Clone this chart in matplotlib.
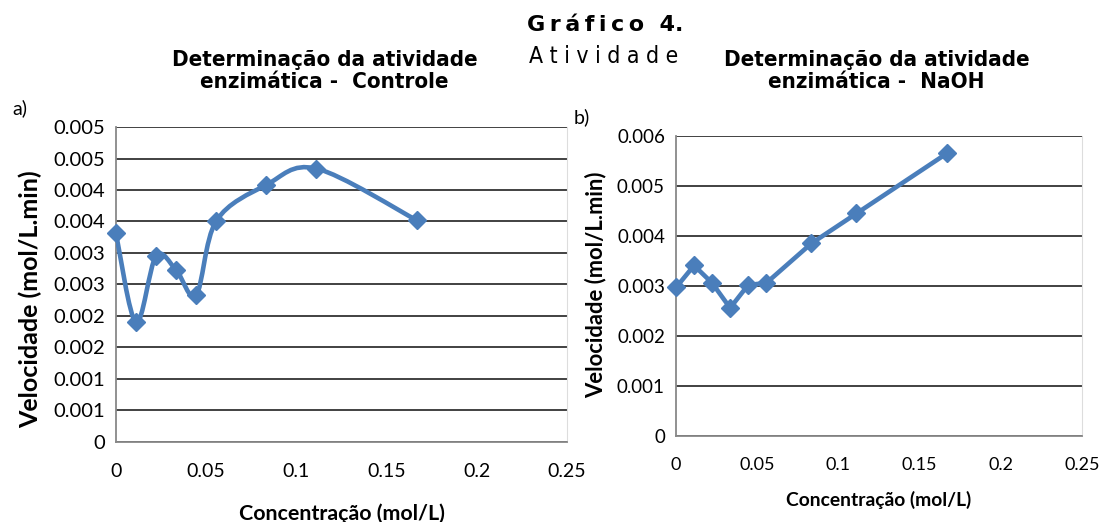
import matplotlib.pyplot as plt
from matplotlib.path import Path
from matplotlib.patches import PathPatch

# concentracoes (mol/L)
conc = [0, 0.0111, 0.0222, 0.0333, 0.0444, 0.0556, 0.0833, 0.1111, 0.1667]
# velocidades (mol/L.min)
vel_controle = [0.00331, 0.00190, 0.00295, 0.00273, 0.00233, 0.00351, 0.00408, 0.00434, 0.00352]
vel_naoh = [0.00297, 0.00341, 0.00306, 0.00256, 0.00302, 0.00306, 0.00385, 0.00445, 0.00565]

xticks = [0, 0.05, 0.1, 0.15, 0.2, 0.25]
xtick_labels = ['0', '0.05', '0.1', '0.15', '0.2', '0.25']
yticks_a = [0, 0.0005, 0.001, 0.0015, 0.002, 0.0025, 0.003, 0.0035, 0.004, 0.0045, 0.005]
ytick_labels_a = ['0', '0.001', '0.001', '0.002', '0.002', '0.003', '0.003', '0.004', '0.004', '0.005', '0.005']
yticks_b = [0, 0.001, 0.002, 0.003, 0.004, 0.005, 0.006]
ytick_labels_b = ['0', '0.001', '0.002', '0.003', '0.004', '0.005', '0.006']

azul = '#4a7ebb'
fonte = 'Lato'
titulo_fonte = 'DejaVu Sans'
ts = '\u2009'  # espaco fino


def curva_suave(xs, ys):
    # linha suavizada tipo excel (catmull-rom -> bezier)
    n = len(xs)
    verts = [(xs[0], ys[0])]
    codes = [Path.MOVETO]
    for i in range(n - 1):
        x0, y0 = xs[max(i - 1, 0)], ys[max(i - 1, 0)]
        x1, y1 = xs[i], ys[i]
        x2, y2 = xs[i + 1], ys[i + 1]
        x3, y3 = xs[min(i + 2, n - 1)], ys[min(i + 2, n - 1)]
        verts.append((x1 + (x2 - x0) / 6, y1 + (y2 - y0) / 6))
        verts.append((x2 - (x3 - x1) / 6, y2 - (y3 - y1) / 6))
        verts.append((x2, y2))
        codes += [Path.CURVE4] * 3
    return Path(verts, codes)


def estilo(ax, yticks, ylabels, fx, fy):
    ax.set_xlim(0, 0.25)
    ax.set_ylim(yticks[0], yticks[-1])
    ax.set_xticks(xticks)
    ax.set_xticklabels(xtick_labels, fontfamily=fonte, fontsize=fx)
    ax.set_yticks(yticks)
    ax.set_yticklabels(ylabels, fontfamily=fonte, fontsize=fy)
    ax.tick_params(length=0)
    ax.tick_params(axis='x', pad=15)
    ax.tick_params(axis='y', pad=8)
    ax.grid(True, axis='y', color='#333333', linewidth=1.3)
    ax.set_axisbelow(True)
    for s in ['left', 'bottom']:
        ax.spines[s].set_color('#888888')
        ax.spines[s].set_linewidth(1.3)
    ax.spines['right'].set_color('#dddddd')
    ax.spines['top'].set_visible(False)


fig = plt.figure(figsize=(11.11, 5.22), dpi=100)

ax1 = fig.add_axes([0.1044, 0.1533, 0.406, 0.6034])
estilo(ax1, yticks_a, ytick_labels_a, 14, 14.5)
ax1.add_patch(PathPatch(curva_suave(conc, vel_controle), facecolor='none',
                        edgecolor=azul, linewidth=3.3, zorder=3))
ax1.plot(conc, vel_controle, linestyle='none', marker='D', markersize=9.5,
         color=azul, zorder=4, clip_on=False)
ax1.set_xlabel('Concentração (mol/L)', fontfamily=fonte, fontweight='bold', fontsize=15.4)
ax1.xaxis.set_label_coords(0.5, -0.194)
ax1.set_ylabel('Velocidade (mol/L.min)', fontfamily=fonte, fontweight='bold', fontsize=18)
ax1.yaxis.set_label_coords(-0.164, 0.454)

ax2 = fig.add_axes([0.6085, 0.1648, 0.3654, 0.5747])
estilo(ax2, yticks_b, ytick_labels_b, 13, 13.5)
ax2.plot(conc, vel_naoh, color=azul, linewidth=3.3, marker='D', markersize=9.5,
         zorder=3, clip_on=False)
ax2.set_xlabel('Concentração (mol/L)', fontfamily=fonte, fontweight='bold', fontsize=13.9)
ax2.xaxis.set_label_coords(0.5, -0.183)
ax2.set_ylabel('Velocidade (mol/L.min)', fontfamily=fonte, fontweight='bold', fontsize=15.8)
ax2.yaxis.set_label_coords(-0.172, 0.503)

# titulos
fig.text(0.292, 0.864, 'Determinação da atividade\nenzimática -  Controle', ha='center',
         va='center', fontsize=16, fontweight='bold', fontfamily=titulo_fonte,
         fontstretch='condensed', linespacing=1.15)
fig.text(0.789, 0.864, 'Determinação da atividade\nenzimática -  NaOH', ha='center',
         va='center', fontsize=16, fontweight='bold', fontfamily=titulo_fonte,
         fontstretch='condensed', linespacing=1.15)
fig.text(0.5445, 0.953, ts.join('Gráfico') + '  4.', ha='center', va='center', fontsize=16,
         fontweight='bold', fontfamily=titulo_fonte)
fig.text(0.5436, 0.891, 'A t i v i d a d e', ha='center', va='center', fontsize=16.5,
         fontfamily=titulo_fonte, fontstretch='condensed')
fig.text(0.018, 0.793, 'a)', ha='center', va='center', fontsize=14, fontfamily=fonte)
fig.text(0.524, 0.776, 'b)', ha='center', va='center', fontsize=14, fontfamily=fonte)

plt.savefig('out.png', dpi=100)
